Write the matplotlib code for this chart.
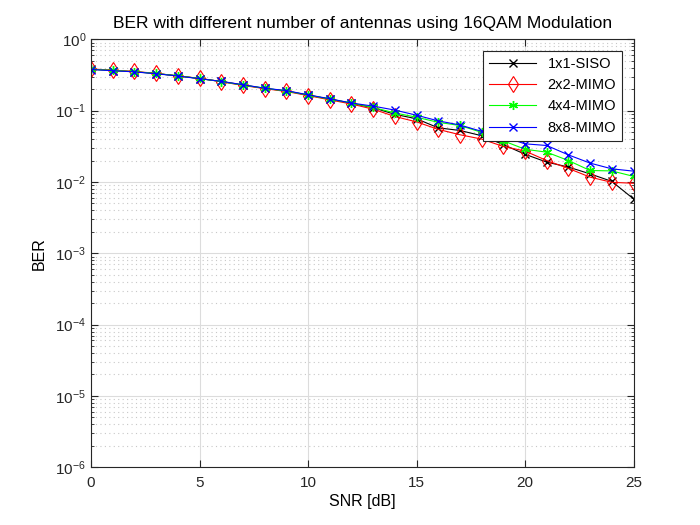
import numpy as np
import matplotlib
matplotlib.use("Agg")
import matplotlib.pyplot as plt
from matplotlib.ticker import LogLocator, NullFormatter, MultipleLocator

plt.rcParams['font.family'] = ['Liberation Sans', 'DejaVu Sans']

snr = list(range(0, 26))
labels = ["1x1-SISO", "2x2-MIMO", "4x4-MIMO", "8x8-MIMO"]
ber_siso = [0.382, 0.366, 0.352, 0.331, 0.309, 0.282, 0.257, 0.230, 0.205, 0.190, 0.165, 0.146, 0.127,
            0.110, 0.089, 0.077, 0.0575, 0.0528, 0.0446, 0.0335, 0.0245, 0.019, 0.0162, 0.013, 0.0102, 0.0058]
ber_2x2 = [0.385, 0.370, 0.355, 0.334, 0.306, 0.285, 0.255, 0.226, 0.204, 0.186, 0.163, 0.142, 0.124,
           0.105, 0.083, 0.0697, 0.0547, 0.046, 0.040, 0.0315, 0.0272, 0.020, 0.0155, 0.0117, 0.0099, 0.0096]
ber_4x4 = [0.380, 0.368, 0.352, 0.333, 0.307, 0.283, 0.256, 0.228, 0.207, 0.188, 0.166, 0.145, 0.128,
           0.111, 0.093, 0.081, 0.0687, 0.062, 0.0497, 0.0378, 0.0288, 0.0262, 0.020, 0.0145, 0.0143, 0.0120]
ber_8x8 = [0.378, 0.364, 0.350, 0.330, 0.306, 0.281, 0.258, 0.231, 0.207, 0.191, 0.167, 0.147, 0.128,
           0.116, 0.102, 0.0864, 0.072, 0.063, 0.0513, 0.043, 0.0343, 0.0325, 0.024, 0.0184, 0.0153, 0.0142]

fig = plt.figure(figsize=(7, 5.25), dpi=100)
ax = fig.add_axes([0.13, 0.11, 0.775, 0.815])

ax.semilogy(snr, ber_siso, color='black', marker='x', markersize=6, linewidth=0.8, label=labels[0])
ax.semilogy(snr, ber_2x2, color='red', marker='d', markersize=8, markerfacecolor='none',
            markeredgewidth=0.8, linewidth=0.8, label=labels[1])
ax.semilogy(snr, ber_4x4, color='#00ff00', marker=(6, 2, 0), markersize=6.5, linewidth=0.8, label=labels[2])
ax.semilogy(snr, ber_8x8, color='blue', marker='x', markersize=6, linewidth=0.8, label=labels[3])

ax.set_xlim(0, 25)
ax.set_ylim(1e-6, 1)
ax.xaxis.set_major_locator(MultipleLocator(5))
ax.yaxis.set_major_locator(LogLocator(base=10, numticks=10))
ax.yaxis.set_minor_locator(LogLocator(base=10, subs=np.arange(2, 10), numticks=20))
ax.yaxis.set_minor_formatter(NullFormatter())

ax.grid(True, which='major', color='#dcdcdc', linewidth=0.8, linestyle='-')
ax.grid(True, which='minor', axis='y', color='#c8c8c8', linewidth=0.8, linestyle=(0, (1, 3)))
ax.set_axisbelow(True)

ax.tick_params(which='both', direction='in', top=True, right=True, labelsize=11, colors='#262626')
ax.tick_params(which='major', length=5)
ax.tick_params(which='minor', length=2.5)
ax.tick_params(axis='x', pad=6)
for s in ax.spines.values():
    s.set_color('#262626')
    s.set_linewidth(0.8)

ax.set_title("BER with different number of antennas using 16QAM Modulation", fontsize=12.5, pad=8)
ax.set_xlabel("SNR [dB]", fontsize=11.5, labelpad=3)
ax.set_ylabel("BER", fontsize=11.5, labelpad=6)

leg = ax.legend(loc='upper right', fontsize=10.5, fancybox=False, framealpha=1,
                edgecolor='#262626', borderaxespad=0.8, handlelength=3.2, labelspacing=0.5)
leg.get_frame().set_linewidth(0.8)

fig.savefig("out.png", dpi=100)
